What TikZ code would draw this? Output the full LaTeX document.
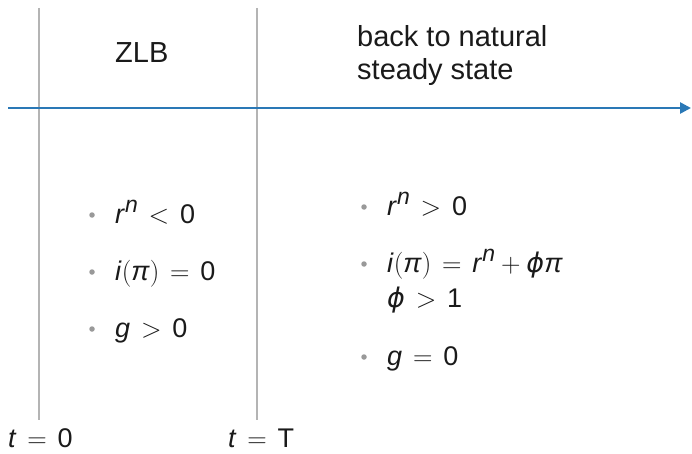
\RequirePackage{fix-cm}
\documentclass[tikz,border=0pt]{standalone}
\usepackage{fontspec}
\setmainfont{Liberation Sans}
\newfontfamily\phifont{DejaVu Sans}
\usetikzlibrary{arrows.meta}
\definecolor{lineGray}{HTML}{B4B4B4}
\definecolor{axisBlue}{HTML}{2A78B6}
\definecolor{dotGray}{HTML}{999999}
\definecolor{txt}{HTML}{1A1A1A}
\newcommand{\vi}[1]{\textit{#1}}
\newcommand{\rn}{\vi{r}\raisebox{0.40em}{\fontsize{23}{24}\selectfont\vi{n}}}
\newcommand{\rel}[1]{\hspace{0.40em}$#1$\hspace{0.40em}}
\newcommand{\bin}[1]{\hspace{0.22em}$#1$\hspace{0.22em}}
\newcommand{\lp}{\raisebox{-0.02em}{$($}}
\newcommand{\rp}{\raisebox{-0.02em}{$)$}}
\newcommand{\vphi}{{\phifont\itshape ϕ}}
\begin{document}
\begin{tikzpicture}[x=1pt,y=-1pt,
  vline/.style={draw=lineGray, line width=1.6pt},
  axis/.style={draw=axisBlue, line width=2.5pt, -{Triangle[length=11pt,width=11pt]}},
  head/.style={font=\fontsize{29}{35}\selectfont, text=txt, anchor=base west, inner sep=0pt},
  lbl/.style={font=\fontsize{27}{32}\selectfont, text=txt, anchor=base west, inner sep=0pt},
  dot/.style={circle, fill=dotGray, inner sep=0pt, minimum size=5.5pt}]
\useasboundingbox (0,0) rectangle (692,454);
% vertical lines
\coordinate (v1t) at (39,8);  \coordinate (v1b) at (39,420);
\coordinate (v2t) at (257,8); \coordinate (v2b) at (257,420);
\draw[vline] (v1t) -- (v1b);
\draw[vline] (v2t) -- (v2b);
% time axis
\coordinate (as) at (8,108); \coordinate (ae) at (691,108);
\draw[axis] (as) -- (ae);
% headings
\node[head] (zlb) at (115,63) {ZLB};
\node[head] (back1) at (357,47) {back to natural};
\node[head] (back2) at (357,80) {steady state};
% left bullets
\node[dot] (d1) at (92,215) {};
\node[lbl] (l1) at (115,223) {\rn\rel{<}0};
\node[dot] (d2) at (92,272) {};
\node[lbl] (l2) at (115,280) {\vi{i}\lp\vi{π}\rp\rel{=}0};
\node[dot] (d3) at (92,329) {};
\node[lbl] (l3) at (115,337) {\vi{g}\rel{>}0};
% right bullets
\node[dot] (e1) at (364,207) {};
\node[lbl] (r1) at (387,215) {\rn\rel{>}0};
\node[dot] (e2) at (364,264) {};
\node[lbl] (r2) at (387,272) {\vi{i}\lp\vi{π}\rp\rel{=}\rn\bin{+}\vphi\vi{π}};
\node[lbl] (r2b) at (387,307) {\vphi\rel{>}1};
\node[dot] (e3) at (364,357) {};
\node[lbl] (r3) at (387,365) {\vi{g}\rel{=}0};
% time labels
\node[lbl] (t0) at (8,447) {\vi{t}\rel{=}0};
\node[lbl] (tT) at (228,447) {\vi{t}\rel{=}T};
\end{tikzpicture}
\end{document}
